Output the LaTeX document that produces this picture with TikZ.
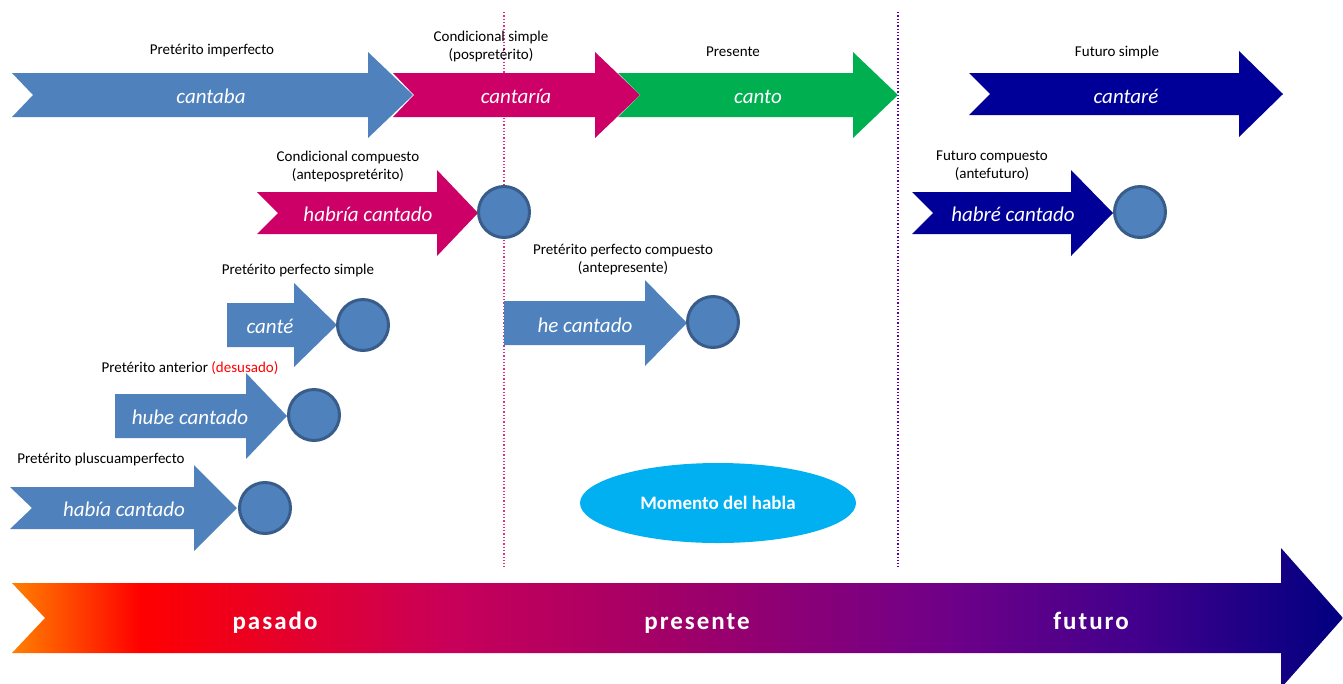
\documentclass[tikz,border=0pt]{standalone}
\usepackage{fontspec}
\setmainfont{Carlito}
\usetikzlibrary{shapes.geometric}
\definecolor{cblue}{HTML}{4F81BD}
\definecolor{cblueD}{HTML}{385D8A}
\definecolor{cmag}{HTML}{CC0066}
\definecolor{cgreen}{HTML}{00B050}
\definecolor{cnavy}{HTML}{000099}
\definecolor{csky}{HTML}{00B0F0}
\definecolor{gorange}{HTML}{FF8000}
\definecolor{gred}{HTML}{FF0000}
\definecolor{gcrim}{HTML}{C8005A}
\definecolor{gmag}{HTML}{A00068}
\definecolor{gpurp}{HTML}{700088}
\definecolor{gviol}{HTML}{40008C}
\definecolor{gnavy}{HTML}{000080}
\pgfdeclarehorizontalshading{timegrad}{100bp}{color(0bp)=(gorange); color(25bp)=(gorange); color(29.8bp)=(gred); color(41.5bp)=(gcrim); color(50bp)=(gmag); color(60bp)=(gpurp); color(67.5bp)=(gviol); color(75bp)=(gnavy); color(100bp)=(gnavy)}
% #1 colour, #2 left x, #3 notch x, #4 head base x, #5 tip x, #6 centre y, #7 half body, #8 half head
\newcommand{\chevarrow}[8]{%
  \fill[#1] ({#2},{#6-#7}) -- ({#4},{#6-#7}) -- ({#4},{#6-#8}) -- ({#5},{#6}) -- ({#4},{#6+#8}) -- ({#4},{#6+#7}) -- ({#2},{#6+#7}) -- ({#3},{#6}) -- cycle;}
\tikzset{
  lbl/.style={font=\fontsize{15}{18}\selectfont, text=black, align=center, inner sep=0pt},
  tense/.style={font=\fontsize{21}{24}\selectfont\itshape, text=white, inner sep=0pt, anchor=base},
  dot/.style={circle, fill=cblue, draw=cblueD, line width=3pt, minimum size=51pt, inner sep=0pt},
  era/.style={font=\fontsize{25}{28}\selectfont\bfseries\addfontfeature{LetterSpace=8}, text=white, inner sep=0pt, anchor=base}
}
\begin{document}
\begin{tikzpicture}[x=1pt,y=-1pt]
\useasboundingbox (0,0) rectangle (1343,683);
% dotted guides
\draw[dotted, line width=1.3pt, color=cmag!80] (504,12) -- (504,567);
\draw[dotted, line width=1.3pt, color=gpurp!80!blue] (898,12) -- (898,567);
% top row
\chevarrow{cblue}{12}{33}{368}{413}{95}{22}{43}
\chevarrow{cmag}{393}{414}{595}{640}{95}{22}{43}
\chevarrow{cgreen}{618}{640}{853}{898}{95}{22}{43}
\chevarrow{cnavy}{969}{990}{1239}{1283}{94}{21}{43}
\node[tense] (cantaba) at (211,103) {cantaba};
\node[tense] (cantaria) at (516,103) {cantaría};
\node[tense] (canto) at (758,103) {canto};
\node[tense] (cantare) at (1126,103) {cantaré};
\node[lbl] (l1) at (212,51) {Pretérito imperfecto};
\node[lbl] (l2) at (491,46) {Condicional simple\\(pospretérito)};
\node[lbl] (l3) at (733,52) {Presente};
\node[lbl] (l4) at (1117,52) {Futuro simple};
% compound forms
\chevarrow{cmag}{257}{278}{437}{478}{213}{21}{43}
\chevarrow{cnavy}{912}{933}{1071}{1113}{213}{21}{43}
\chevarrow{cblue}{504}{504}{645}{687}{323}{22}{43}
\chevarrow{cblue}{227}{227}{294}{337}{325}{22}{42}
\chevarrow{cblue}{115}{115}{246}{287}{416}{22}{43}
\chevarrow{cblue}{10}{32}{194}{237}{508}{21}{43}
\node[dot] (d1) at (504,212) {};
\node[dot] (d2) at (1140,212) {};
\node[dot] (d3) at (713,322) {};
\node[dot] (d4) at (363,325) {};
\node[dot] (d5) at (314,415) {};
\node[dot] (d6) at (265,508) {};
\node[tense] (habria) at (368,221) {habría cantado};
\node[tense] (habre) at (1013,221) {habré cantado};
\node[tense] (he) at (585,332) {he cantado};
\node[tense] (cante) at (270,333) {canté};
\node[tense] (hube) at (190,424) {hube cantado};
\node[tense] (habia) at (124,516) {había cantado};
\node[lbl] (l5) at (348,166) {Condicional compuesto\\(antepospretérito)};
\node[lbl] (l6) at (992,166) {Futuro compuesto\\(antefuturo)};
\node[lbl] (l7) at (623,260) {Pretérito perfecto compuesto\\(antepresente)};
\node[lbl] (l8) at (298,270) {Pretérito perfecto simple};
\node[lbl] (l9) at (190,368) {Pretérito anterior \textcolor{red}{(desusado)}};
\node[lbl] (l10) at (101,459) {Pretérito pluscuamperfecto};
% speech moment
\node[ellipse, fill=csky, minimum width=276pt, minimum height=80pt, inner sep=0pt,
  font=\fontsize{19}{22}\selectfont\bfseries, text=white] (habla) at (718,503) {Momento del habla};
% time axis
\shade[shading=timegrad] (12,583) -- (1281,583) -- (1281,548) -- (1343,618) -- (1281,688) -- (1281,653) -- (12,653) -- (45,618) -- cycle;
\node[era] (pasado) at (275,629) {pasado};
\node[era] (presente) at (697,629) {presente};
\node[era] (futuro) at (1091,629) {futuro};
\end{tikzpicture}
\end{document}
